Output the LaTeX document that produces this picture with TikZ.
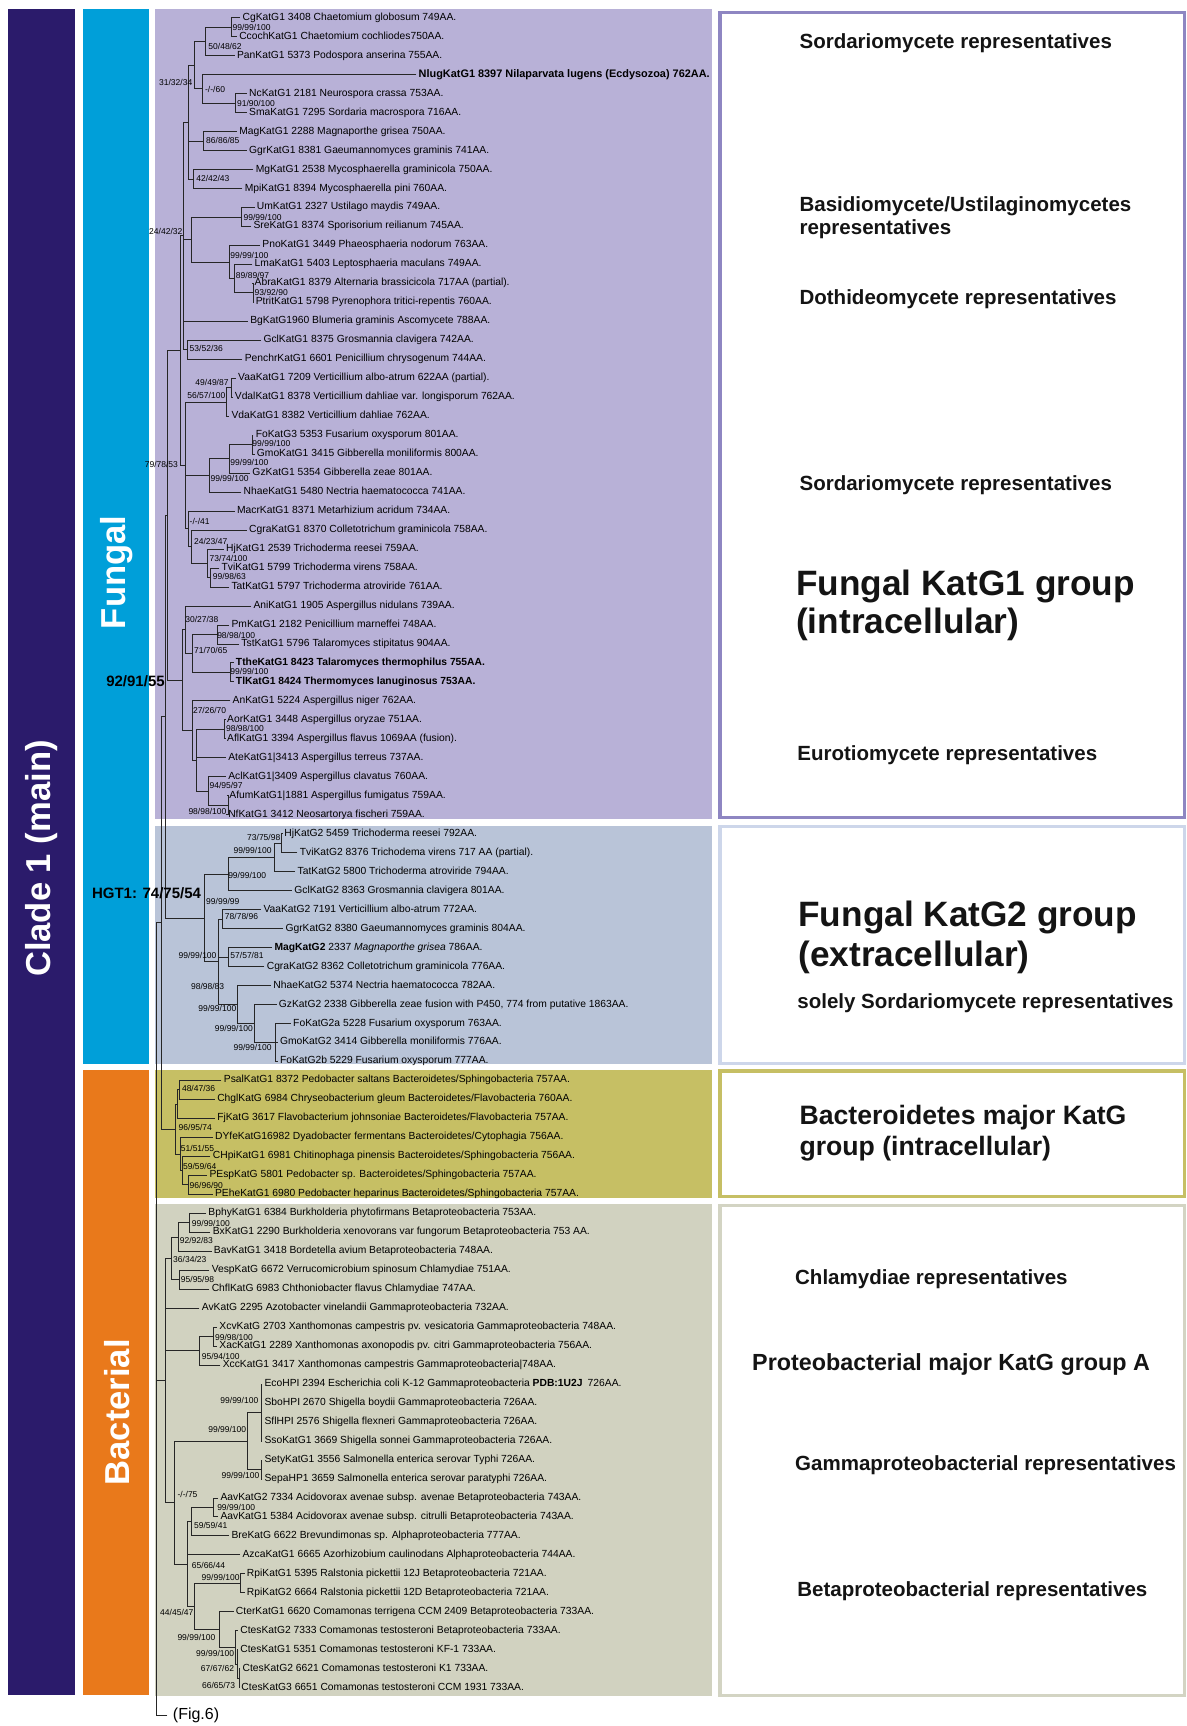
\documentclass[tikz,border=0pt]{standalone}
\usepackage{fontspec}
\setmainfont{Liberation Sans}
\usetikzlibrary{calc}
\definecolor{cladeC}{HTML}{2B1B6B}
\definecolor{fungC}{HTML}{009FD9}
\definecolor{bactC}{HTML}{E9791B}
\definecolor{kaC}{HTML}{B8B1D7}
\definecolor{kbC}{HTML}{B9C4D8}
\definecolor{bacC}{HTML}{C6BF64}
\definecolor{proC}{HTML}{D1D2C0}
\definecolor{kaB}{HTML}{8E86C2}
\definecolor{kbB}{HTML}{CDD6EA}
\definecolor{bacB}{HTML}{C6BF64}
\definecolor{proB}{HTML}{D3D4C3}
\tikzset{
  br/.style={draw=black!85, line width=0.35pt},
  leaf/.style={anchor=west, inner xsep=1pt, inner ysep=0pt, font=\fontsize{5.15}{6}\selectfont, text height=3.7pt, text depth=1.1pt},
  bsw/.style={anchor=west, inner sep=0pt, font=\fontsize{4.25}{5}\selectfont},
  bse/.style={anchor=east, inner sep=0pt, font=\fontsize{4.25}{5}\selectfont},
  rlab/.style={anchor=west, inner sep=0pt, font=\bfseries\fontsize{10.25}{12}\selectfont, text=black!92},
  biglab/.style={anchor=west, inner sep=0pt, font=\bfseries\fontsize{17.6}{20}\selectfont, text=black!92},
  midlab/.style={anchor=west, inner sep=0pt, font=\bfseries\fontsize{13.3}{15}\selectfont, text=black!92},
  boldbs/.style={anchor=east, inner sep=0pt, font=\bfseries\fontsize{7.5}{9}\selectfont},
  bartext/.style={rotate=90, text=white, font=\bfseries\fontsize{17.3}{20}\selectfont},
}
\newcommand{\lf}[4]{\node[leaf] (#1) at (#2-1.8,{16+17.24*#3}) {#4};}
\newcommand{\nd}[4]{%
  \coordinate (#1-m) at ($(#3)!.5!(#4)$);
  \coordinate (#1-x) at (#2,0);
  \coordinate (#1) at (#1-x |- #1-m);
  \draw[br] (#3) -| (#1);
  \draw[br] (#4) -| (#1);}
\newcommand{\ch}[2]{\draw[br] (#2) -| (#1);}
\begin{document}
\begin{tikzpicture}[x=0.55pt,y=-0.55pt]
\useasboundingbox (0,0) rectangle (1078,1568);
% bars
\fill[cladeC] (7,8) rectangle (68,1540);
\fill[fungC] (75,8) rectangle (135,967);
\fill[bactC] (75,972) rectangle (135,1540);
\node[bartext, font=\bfseries\fontsize{17.3}{19}\selectfont] (tClade) at (38,780) {Clade 1 (main)};
\node[bartext] (tFungal) at (106,520) {Fungal};
\node[bartext] (tBact) at (106,1283) {Bacterial};
% panels
\fill[kaC] (141,8) rectangle (647,744);
\fill[kbC] (141,750) rectangle (647,967);
\fill[bacC] (141,972) rectangle (647,1088);
\fill[proC] (141,1094) rectangle (647,1541);
% right boxes
\draw[draw=kaB, line width=1.6pt, fill=white] (654,11) rectangle (1076,743);
\draw[draw=kbB, line width=1.6pt, fill=white] (654,751) rectangle (1076,966);
\draw[draw=bacB, line width=1.6pt, fill=white] (654,973) rectangle (1076,1087);
\draw[draw=proB, line width=1.6pt, fill=white] (654,1095) rectangle (1076,1540);
% right labels
\node[rlab] (r1) at (726,39.5) {Sordariomycete representatives};
\node[rlab] (r2) at (726,187.5) {Basidiomycete/Ustilaginomycetes};
\node[rlab] (r2b) at (726,208.5) {representatives};
\node[rlab] (r3) at (726,271.5) {Dothideomycete representatives};
\node[rlab] (r4) at (726,440.5) {Sordariomycete representatives};
\node[biglab] (r5) at (723,532.5) {Fungal KatG1 group};
\node[biglab] (r5b) at (723,567.5) {(intracellular)};
\node[rlab] (r6) at (724,686.5) {Eurotiomycete representatives};
\node[biglab] (r7) at (725,833.5) {Fungal KatG2 group};
\node[biglab] (r7b) at (725,869.5) {(extracellular)};
\node[rlab] (r8) at (724,911.5) {solely Sordariomycete representatives};
\node[midlab] (r9) at (726,1015.5) {Bacteroidetes major KatG};
\node[midlab] (r9b) at (726,1043.5) {group (intracellular)};
\node[rlab] (r10) at (722,1162.5) {Chlamydiae representatives};
\node[rlab, font=\bfseries\fontsize{11.65}{13}\selectfont] (r11) at (683,1239.5) {Proteobacterial major KatG group A};
\node[rlab] (r12) at (722,1331.5) {Gammaproteobacterial representatives};
\node[rlab] (r13) at (724,1445.5) {Betaproteobacterial representatives};
% ---------- leaves: Fungal KatG1
\lf{Cg}{220}{0}{CgKatG1 3408 Chaetomium globosum 749AA.}
\lf{Ccoch}{217}{1}{CcochKatG1 Chaetomium cochliodes750AA.}
\lf{Pan}{215}{2}{PanKatG1 5373 Podospora anserina 755AA.}
\lf{Nlug}{380}{3}{\bfseries\fontsize{5.45}{6}\selectfont NlugKatG1 8397 Nilaparvata lugens (Ecdysozoa) 762AA.}
\lf{Nc}{226}{4}{NcKatG1 2181 Neurospora crassa 753AA.}
\lf{Sma}{226}{5}{SmaKatG1 7295 Sordaria macrospora 716AA.}
\lf{Mag}{217}{6}{MagKatG1 2288 Magnaporthe grisea 750AA.}
\lf{Ggr}{226}{7}{GgrKatG1 8381 Gaeumannomyces graminis 741AA.}
\lf{Mg}{232}{8}{MgKatG1 2538 Mycosphaerella graminicola 750AA.}
\lf{Mpi}{222}{9}{MpiKatG1 8394 Mycosphaerella pini 760AA.}
\lf{Um}{233}{10}{UmKatG1 2327 Ustilago maydis 749AA.}
\lf{Sre}{230}{11}{SreKatG1 8374 Sporisorium reilianum 745AA.}
\lf{Pno}{238}{12}{PnoKatG1 3449 Phaeosphaeria nodorum 763AA.}
\lf{Lma}{231}{13}{LmaKatG1 5403 Leptosphaeria maculans 749AA.}
\lf{Abra}{231}{14}{AbraKatG1 8379 Alternaria brassicicola 717AA (partial).}
\lf{Ptrit}{232}{15}{PtritKatG1 5798 Pyrenophora tritici-repentis 760AA.}
\lf{Bg}{227}{16}{BgKatG1960 Blumeria graminis Ascomycete 788AA.}
\lf{Gcl}{239}{17}{GclKatG1 8375 Grosmannia clavigera 742AA.}
\lf{Penchr}{222}{18}{PenchrKatG1 6601 Penicillium chrysogenum 744AA.}
\lf{Vaa}{216}{19}{VaaKatG1 7209 Verticillium albo-atrum 622AA (partial).}
\lf{Vdal}{213}{20}{VdalKatG1 8378 Verticillium dahliae var. longisporum 762AA.}
\lf{Vda}{210}{21}{VdaKatG1 8382 Verticillium dahliae 762AA.}
\lf{Fo}{232}{22}{FoKatG3 5353 Fusarium oxysporum 801AA.}
\lf{Gmo}{233}{23}{GmoKatG1 3415 Gibberella moniliformis 800AA.}
\lf{Gz}{229}{24}{GzKatG1 5354 Gibberella zeae 801AA.}
\lf{Nhae}{221}{25}{NhaeKatG1 5480 Nectria haematococca 741AA.}
\lf{Macr}{215}{26}{MacrKatG1 8371 Metarhizium acridum 734AA.}
\lf{Cgra}{226}{27}{CgraKatG1 8370 Colletotrichum graminicola 758AA.}
\lf{Hj}{205}{28}{HjKatG1 2539 Trichoderma reesei 759AA.}
\lf{Tvi}{201}{29}{TviKatG1 5799 Trichoderma virens 758AA.}
\lf{Tat}{210}{30}{TatKatG1 5797 Trichoderma atroviride 761AA.}
\lf{Ani}{230}{31}{AniKatG1 1905 Aspergillus nidulans 739AA.}
\lf{Pm}{210}{32}{PmKatG1 2182 Penicillium marneffei 748AA.}
\lf{Tst}{219}{33}{TstKatG1 5796 Talaromyces stipitatus 904AA.}
\lf{Tthe}{214}{34}{\bfseries TtheKatG1 8423 Talaromyces thermophilus 755AA.}
\lf{Tl}{214}{35}{\bfseries TlKatG1 8424 Thermomyces lanuginosus 753AA.}
\lf{An}{211}{36}{AnKatG1 5224 Aspergillus niger 762AA.}
\lf{Aor}{206}{37}{AorKatG1 3448 Aspergillus oryzae 751AA.}
\lf{Afl}{206}{38}{AflKatG1 3394 Aspergillus flavus 1069AA (fusion).}
\lf{Ate}{207}{39}{AteKatG1|3413 Aspergillus terreus 737AA.}
\lf{Acl}{207}{40}{AclKatG1|3409 Aspergillus clavatus 760AA.}
\lf{Afum}{208}{41}{AfumKatG1|1881 Aspergillus fumigatus 759AA.}
\lf{Nf}{207}{42}{NfKatG1 3412 Neosartorya fischeri 759AA.}
% ---------- KatG2
\lf{HjB}{258}{43}{HjKatG2 5459 Trichoderma reesei 792AA.}
\lf{TviB}{272}{44}{TviKatG2 8376 Trichodema virens 717 AA (partial).}
\lf{TatB}{270}{45}{TatKatG2 5800 Trichoderma atroviride 794AA.}
\lf{GclB}{267}{46}{GclKatG2 8363 Grosmannia clavigera 801AA.}
\lf{VaaB}{239}{47}{VaaKatG2 7191 Verticillium albo-atrum 772AA.}
\lf{GgrB}{259}{48}{GgrKatG2 8380 Gaeumannomyces graminis 804AA.}
\lf{MagB}{249}{49}{\textbf{MagKatG2} 2337 \textit{Magnaporthe grisea} 786AA.}
\lf{CgraB}{242}{50}{CgraKatG2 8362 Colletotrichum graminicola 776AA.}
\lf{NhaeB}{248}{51}{NhaeKatG2 5374 Nectria haematococca 782AA.}
\lf{GzB}{253}{52}{GzKatG2 2338 Gibberella zeae fusion with P450, 774 from putative 1863AA.}
\lf{FoBa}{266}{53}{FoKatG2a 5228 Fusarium oxysporum 763AA.}
\lf{GmoB}{254}{54}{GmoKatG2 3414 Gibberella moniliformis 776AA.}
\lf{FoBb}{254}{55}{FoKatG2b 5229 Fusarium oxysporum 777AA.}
% ---------- Bacteroidetes
\lf{Psal}{203}{56}{PsalKatG1 8372 Pedobacter saltans Bacteroidetes/Sphingobacteria 757AA.}
\lf{Chgl}{197}{57}{ChglKatG 6984 Chryseobacterium gleum Bacteroidetes/Flavobacteria 760AA.}
\lf{Fj}{197}{58}{FjKatG 3617 Flavobacterium johnsoniae Bacteroidetes/Flavobacteria 757AA.}
\lf{DYfe}{195}{59}{DYfeKatG16982 Dyadobacter fermentans Bacteroidetes/Cytophagia 756AA.}
\lf{CHpi}{193}{60}{CHpiKatG1 6981 Chitinophaga pinensis Bacteroidetes/Sphingobacteria 756AA.}
\lf{PEsp}{190}{61}{PEspKatG 5801 Pedobacter sp. Bacteroidetes/Sphingobacteria 757AA.}
\lf{PEhe}{195}{62}{PEheKatG1 6980 Pedobacter heparinus Bacteroidetes/Sphingobacteria 757AA.}
% ---------- Proteobacteria
\lf{Bphy}{189}{63}{BphyKatG1 6384 Burkholderia phytofirmans Betaproteobacteria 753AA.}
\lf{Bx}{193}{64}{BxKatG1 2290 Burkholderia xenovorans var fungorum Betaproteobacteria 753 AA.}
\lf{Bav}{194}{65}{BavKatG1 3418 Bordetella avium Betaproteobacteria 748AA.}
\lf{Vesp}{192}{66}{VespKatG 6672 Verrucomicrobium spinosum Chlamydiae 751AA.}
\lf{Chfl}{192}{67}{ChflKatG 6983 Chthoniobacter flavus Chlamydiae 747AA.}
\lf{Av}{183}{68}{AvKatG 2295 Azotobacter vinelandii Gammaproteobacteria 732AA.}
\lf{Xcv}{199}{69}{XcvKatG 2703 Xanthomonas campestris pv. vesicatoria Gammaproteobacteria 748AA.}
\lf{Xac}{199}{70}{XacKatG1 2289 Xanthomonas axonopodis pv. citri Gammaproteobacteria 756AA.}
\lf{Xcc}{202}{71}{XccKatG1 3417 Xanthomonas campestris Gammaproteobacteria|748AA.}
\lf{Eco}{240}{72}{EcoHPI 2394 Escherichia coli K-12 Gammaproteobacteria \textbf{PDB:1U2J}\enspace 726AA.}
\lf{Sbo}{240}{73}{SboHPI 2670 Shigella boydii Gammaproteobacteria 726AA.}
\lf{Sfl}{240}{74}{SflHPI 2576 Shigella flexneri Gammaproteobacteria 726AA.}
\lf{Sso}{240}{75}{SsoKatG1 3669 Shigella sonnei Gammaproteobacteria 726AA.}
\lf{Sety}{240}{76}{SetyKatG1 3556 Salmonella enterica serovar Typhi 726AA.}
\lf{Sepa}{240}{77}{SepaHP1 3659 Salmonella enterica serovar paratyphi 726AA.}
\lf{AavB}{200}{78}{AavKatG2 7334 Acidovorax avenae subsp. avenae Betaproteobacteria 743AA.}
\lf{AavA}{200}{79}{AavKatG1 5384 Acidovorax avenae subsp. citrulli Betaproteobacteria 743AA.}
\lf{Bre}{210}{80}{BreKatG 6622 Brevundimonas sp. Alphaproteobacteria 777AA.}
\lf{Azca}{220}{81}{AzcaKatG1 6665 Azorhizobium caulinodans Alphaproteobacteria 744AA.}
\lf{RpiA}{224}{82}{RpiKatG1 5395 Ralstonia pickettii 12J Betaproteobacteria 721AA.}
\lf{RpiB}{224}{83}{RpiKatG2 6664 Ralstonia pickettii 12D Betaproteobacteria 721AA.}
\lf{Cter}{214}{84}{CterKatG1 6620 Comamonas terrigena CCM 2409 Betaproteobacteria 733AA.}
\lf{CtesA}{218}{85}{CtesKatG2 7333 Comamonas testosteroni Betaproteobacteria 733AA.}
\lf{CtesB}{218}{86}{CtesKatG1 5351 Comamonas testosteroni KF-1 733AA.}
\lf{CtesC}{220}{87}{CtesKatG2 6621 Comamonas testosteroni K1 733AA.}
\lf{CtesD}{219}{88}{CtesKatG3 6651 Comamonas testosteroni CCM 1931 733AA.}
\node[anchor=west, inner xsep=2.6pt, inner ysep=0pt, font=\fontsize{8}{9}\selectfont] (Fig6) at (152,1558) {(Fig.6)};
% ---------- tree: KatG1
\nd{n01}{210}{Cg}{Ccoch}
\nd{n012}{187}{n01}{Pan}
\nd{n45}{214}{Nc}{Sma}
\nd{n345}{184}{Nlug}{n45}
\nd{n05}{177}{n012}{n345}
\nd{n67}{185}{Mag}{Ggr}
\nd{n89}{176}{Mg}{Mpi}
\nd{X1}{171}{n05}{n89} \ch{X1}{n67}
\nd{n1011}{219}{Um}{Sre}
\nd{n1415}{230}{Abra}{Ptrit}
\nd{n13}{213}{Lma}{n1415}
\nd{n12}{208}{Pno}{n13}
\nd{X2}{174}{n1011}{n12}
\nd{n1718}{170}{Gcl}{Penchr}
\nd{G1}{167}{X1}{n1718} \ch{G1}{X2} \ch{G1}{Bg}
\nd{n1920}{210.5}{Vaa}{Vdal}
\nd{n1921}{206}{n1920}{Vda}
\nd{n2223}{229}{Fo}{Gmo}
\nd{n2224}{208}{n2223}{Gz}
\nd{n2225}{190}{n2224}{Nhae}
\nd{n2930}{191}{Tvi}{Tat}
\nd{n2830}{188}{Hj}{n2930}
\nd{n2730}{174}{Cgra}{n2830}
\nd{n2630}{171}{Macr}{n2730}
\nd{G2}{168}{n1921}{n2630} \ch{G2}{n2225}
\nd{S}{164}{G1}{G2}
\nd{n3233}{197}{Pm}{Tst}
\nd{n3435}{209}{Tthe}{Tl}
\nd{n3235}{175}{n3233}{n3435}
\nd{AniG}{168}{Ani}{n3235}
\nd{n3738}{204}{Aor}{Afl}
\nd{n4142}{207}{Afum}{Nf}
\nd{n4042}{189}{Acl}{n4142}
\nd{n3742}{178}{n3738}{n4042} \ch{n3742}{Ate}
\nd{AnG}{175}{An}{n3742}
\nd{G3}{166}{AniG}{AnG}
\nd{F1}{152}{S}{G3}
% ---------- tree: KatG2
\nd{k1}{256}{HjB}{TviB}
\nd{k2}{249}{k1}{TatB}
\nd{k3}{207}{k2}{GclB}
\nd{kB}{202}{VaaB}{GgrB}
\nd{kC}{207}{MagB}{CgraB}
\nd{kN1}{250}{FoBa}{FoBb} \ch{kN1}{GmoB}
\nd{kN2}{231}{GzB}{kN1}
\nd{kN3}{216}{NhaeB}{kN2}
\nd{k5}{198}{kB}{kN3} \ch{k5}{kC}
\nd{k6}{186}{k3}{k5}
% ---------- tree: Bacteroidetes
\nd{b1}{163}{Psal}{Chgl}
\nd{b2}{161}{b1}{Fj}
\nd{b5}{171}{PEsp}{PEhe}
\nd{b4}{166}{CHpi}{b5}
\nd{b3}{164}{DYfe}{b4}
\nd{bR}{159}{b2}{b3}
% ---------- tree: Proteobacteria
\nd{pb}{172}{Bphy}{Bx}
\nd{pb2}{162}{pb}{Bav}
\nd{pc}{163}{Vesp}{Chfl}
\nd{pbc}{156}{pb2}{pc}
\nd{px1}{194}{Xcv}{Xac}
\nd{px2}{181}{px1}{Xcc}
\nd{pg1}{237}{Eco}{Sso} \ch{pg1}{Sbo} \ch{pg1}{Sfl}
\nd{pg2}{237}{Sety}{Sepa}
\nd{pg}{225}{pg1}{pg2}
\nd{pa1}{194}{AavB}{AavA}
\nd{pa2}{174}{pa1}{Bre}
\nd{pr}{218}{RpiA}{RpiB}
\nd{c3}{217}{CtesC}{CtesD}
\nd{c2}{215.5}{CtesB}{c3}
\nd{c1}{214}{CtesA}{c2}
\nd{pcom}{199}{Cter}{c1}
\nd{pR}{177}{pr}{pcom}
\nd{A2}{170.5}{pa2}{pR} \ch{A2}{Azca}
\nd{N75}{158}{pg}{A2}
\nd{PA}{150}{pbc}{N75} \ch{PA}{Av} \ch{PA}{px2}
% ---------- backbone
\nd{Fg}{150}{F1}{k6}
\nd{FB}{147}{Fg}{bR}
\nd{Rt}{142}{FB}{Fig6} \ch{Rt}{PA}
% ---------- support values
\node[bsw] (s1) at (211,25) {99/99/100};
\node[bsw] (s2) at (189,42) {50/48/62};
\node[bse] (s3) at (175,75) {31/32/34};
\node[bsw] (s4) at (186,81) {-/-/60};
\node[bsw] (s5) at (215,94) {91/90/100};
\node[bsw] (s6) at (187,128) {86/86/85};
\node[bsw] (s7) at (178,162) {42/42/43};
\node[bsw] (s8) at (221,198) {99/99/100};
\node[bse] (s9) at (166,210) {24/42/32};
\node[bsw] (s10) at (209,232) {99/99/100};
\node[bsw] (s11) at (214,250) {89/89/97};
\node[bsw] (s12) at (231,266) {93/92/90};
\node[bsw] (s13) at (172,317) {53/52/36};
\node[bse] (s14) at (208,347) {49/49/87};
\node[bse] (s15) at (205,359) {56/57/100};
\node[bsw] (s16) at (229,403) {99/99/100};
\node[bsw] (s17) at (209,420) {99/99/100};
\node[bse] (s18) at (162,422) {79/78/53};
\node[bsw] (s19) at (191,435) {99/99/100};
\node[bsw] (s20) at (172,474) {-/-/41};
\node[bsw] (s21) at (176,492) {24/23/47};
\node[bsw] (s22) at (190,507) {73/74/100};
\node[bsw] (s23) at (193,524) {99/98/63};
\node[bsw] (s24) at (168,563) {30/27/38};
\node[bsw] (s25) at (197,577) {98/98/100};
\node[bsw] (s26) at (176,591) {71/70/65};
\node[bsw] (s27) at (209,610) {99/99/100};
\node[bsw] (s28) at (175,645) {27/26/70};
\node[bsw] (s29) at (205,662) {98/98/100};
\node[bsw] (s30) at (190,714) {94/95/97};
\node[bse] (s31) at (206,737) {98/98/100};
\node[boldbs] (s32) at (150,619) {92/91/55};
\node[bse] (s33) at (255,761) {73/75/98};
\node[bse] (s34) at (247,773) {99/99/100};
\node[bsw] (s35) at (207,795) {99/99/100};
\node[boldbs] (s36) at (183,811) {HGT1: 74/75/54};
\node[bsw] (s37) at (187,819) {99/99/99};
\node[bsw] (s38) at (204,833) {78/78/96};
\node[bse] (s39) at (197,868) {99/99/100};
\node[bsw] (s40) at (209,868) {57/57/81};
\node[bse] (s41) at (204,896) {98/98/83};
\node[bse] (s42) at (215,916) {99/99/100};
\node[bse] (s43) at (230,934) {99/99/100};
\node[bse] (s44) at (247,952) {99/99/100};
\node[bsw] (s45) at (165,989) {48/47/36};
\node[bsw] (s46) at (162,1024) {96/95/74};
\node[bsw] (s47) at (164,1043) {51/51/55};
\node[bsw] (s48) at (166,1060) {59/59/64};
\node[bsw] (s49) at (172,1077) {96/96/90};
\node[bsw] (s50) at (174,1111) {99/99/100};
\node[bsw] (s51) at (163,1127) {92/92/83};
\node[bsw] (s52) at (157,1144) {36/34/23};
\node[bsw] (s53) at (164,1162) {95/95/98};
\node[bsw] (s54) at (195,1215) {99/98/100};
\node[bsw] (s55) at (183,1232) {95/94/100};
\node[bse] (s56) at (235,1272) {99/99/100};
\node[bse] (s57) at (224,1299) {99/99/100};
\node[bse] (s58) at (236,1340) {99/99/100};
\node[bsw] (s59) at (161,1358) {-/-/75};
\node[bsw] (s60) at (197,1369) {99/99/100};
\node[bsw] (s61) at (176,1386) {59/59/41};
\node[bsw] (s62) at (174,1422) {65/66/44};
\node[bse] (s63) at (218,1433) {99/99/100};
\node[bse] (s64) at (176,1465) {44/45/47};
\node[bse] (s65) at (196,1488) {99/99/100};
\node[bse] (s66) at (213,1502) {99/99/100};
\node[bse] (s67) at (213,1516) {67/67/62};
\node[bse] (s68) at (214,1531) {66/65/73};
\end{tikzpicture}
\end{document}
